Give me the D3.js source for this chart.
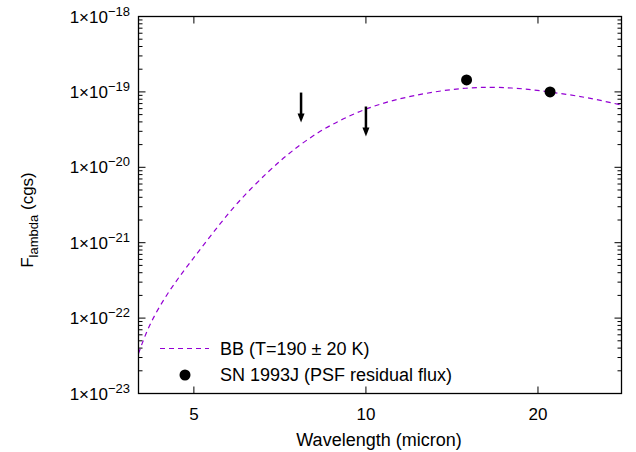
<!DOCTYPE html>
<html>
<head>
<meta charset="utf-8">
<script src="https://cdn.jsdelivr.net/npm/d3@7"></script>
<style>
  body { margin: 0; background: #fff; }
  text { font-family: "Liberation Sans", Arial, sans-serif; fill: #000; }
</style>
</head>
<body>
<script>
var w = 636;
var h = 452;

// blackbody curve
var bbWave = [4.0, 4.18, 4.53, 4.91, 5.39, 5.93, 6.78, 7.39, 8.31, 10.0, 12.1, 15.0, 18.1, 21.0, 24.3, 27.5, 28.0];
var bbFlux = [3.4e-23, 8.5e-23, 2.36e-22, 5.33e-22, 1.33e-21, 3.33e-21, 9.2e-21, 1.61e-20, 3.12e-20, 6.25e-20, 9.1e-20, 1.17e-19, 1.15e-19, 1.0e-19, 8.5e-20, 6.9e-20, 6.7e-20];

// SN 1993J detections
var snWave = [15.0, 21.0];
var snFlux = [1.44e-19, 1.0e-19];

// upper limits (arrows)
var ulWave = [7.7, 10.0];
var ulFlux = [9.8e-20, 6.4e-20];

var xTicks = [5, 10, 20];
var yTicks = [-23, -22, -21, -20, -19, -18];

var pLeft = 138.5, pRight = 621.5, pTop = 16.5, pBottom = 393.5;

var x = d3.scaleLog().domain([4, 28]).range([pLeft, pRight]);
var y = d3.scaleLog().domain([1e-23, 1e-18]).range([pBottom, pTop]);

var svg = d3.select("body")
            .append("svg")
              .attr("width", w)
              .attr("height", h);

svg.append("defs").append("clipPath").attr("id", "clip")
  .append("rect")
    .attr("x", pLeft).attr("y", pTop)
    .attr("width", pRight - pLeft).attr("height", pBottom - pTop);

// minor y ticks
var minor = [];
yTicks.slice(0, -1).forEach(function(e) {
  for (var k = 2; k <= 9; k++) minor.push(k * Math.pow(10, e));
});

var tickG = svg.append("g").attr("stroke", "#000").attr("stroke-width", 1);
minor.forEach(function(v) {
  tickG.append("line").attr("x1", pLeft).attr("x2", pLeft + 4).attr("y1", y(v)).attr("y2", y(v));
  tickG.append("line").attr("x1", pRight).attr("x2", pRight - 4).attr("y1", y(v)).attr("y2", y(v));
});
yTicks.forEach(function(e) {
  var v = Math.pow(10, e);
  tickG.append("line").attr("x1", pLeft).attr("x2", pLeft + 7).attr("y1", y(v)).attr("y2", y(v));
  tickG.append("line").attr("x1", pRight).attr("x2", pRight - 7).attr("y1", y(v)).attr("y2", y(v));
});
xTicks.forEach(function(v) {
  tickG.append("line").attr("x1", x(v)).attr("x2", x(v)).attr("y1", pBottom).attr("y2", pBottom - 7);
  tickG.append("line").attr("x1", x(v)).attr("x2", x(v)).attr("y1", pTop).attr("y2", pTop + 7);
});

// y tick labels
yTicks.forEach(function(e) {
  var t = svg.append("text")
    .attr("x", 130)
    .attr("y", y(Math.pow(10, e)) + 6)
    .attr("text-anchor", "end")
    .style("font-size", "17px");
  t.append("tspan").text("1\u00d710");
  t.append("tspan").attr("dy", -7).style("font-size", "13px").text("\u2212" + (-e));
});

// x tick labels
xTicks.forEach(function(v) {
  svg.append("text")
    .attr("x", x(v))
    .attr("y", 420)
    .attr("text-anchor", "middle")
    .style("font-size", "17px")
    .text(v);
});

// axis titles
svg.append("text")
  .attr("x", 379)
  .attr("y", 446)
  .attr("text-anchor", "middle")
  .style("font-size", "18px")
  .text("Wavelength (micron)");

var yl = svg.append("text")
  .attr("transform", "translate(33,220) rotate(-90)")
  .attr("text-anchor", "middle")
  .style("font-size", "17px");
yl.append("tspan").text("F");
yl.append("tspan").attr("dy", 5).style("font-size", "13px").text("lambda");
yl.append("tspan").attr("dy", -5).text(" (cgs)");

// blackbody curve
var bb = bbWave.map(function(d, i) { return [d, bbFlux[i]]; });
var line = d3.line()
  .x(function(d) { return x(d[0]); })
  .y(function(d) { return y(d[1]); })
  .curve(d3.curveBasis);

svg.append("path")
  .datum(bb)
  .attr("clip-path", "url(#clip)")
  .attr("d", line)
  .attr("fill", "none")
  .attr("stroke", "#9400d3")
  .attr("stroke-width", 1.2)
  .attr("stroke-dasharray", "5,4");

// detections
svg.selectAll(".sn")
  .data(snWave)
  .enter()
  .append("circle")
    .attr("class", "sn")
    .attr("cx", function(d) { return x(d); })
    .attr("cy", function(d, i) { return y(snFlux[i]); })
    .attr("r", 5.5)
    .attr("fill", "#000");

// upper limit arrows
var arrowLen = 30;
ulWave.forEach(function(d, i) {
  var ax = x(d), ay = y(ulFlux[i]);
  svg.append("line")
    .attr("x1", ax).attr("x2", ax)
    .attr("y1", ay).attr("y2", ay + arrowLen - 6)
    .attr("stroke", "#000").attr("stroke-width", 2.5);
  svg.append("path")
    .attr("d", "M" + (ax - 3.5) + "," + (ay + arrowLen - 9) +
               "L" + (ax + 3.5) + "," + (ay + arrowLen - 9) +
               "L" + ax + "," + (ay + arrowLen) + "Z")
    .attr("fill", "#000");
});

// legend
svg.append("line")
  .attr("x1", 160).attr("x2", 209)
  .attr("y1", 348.5).attr("y2", 348.5)
  .attr("stroke", "#9400d3")
  .attr("stroke-width", 1.2)
  .attr("stroke-dasharray", "5,4");
svg.append("text")
  .attr("x", 220).attr("y", 354.5)
  .style("font-size", "18px")
  .text("BB (T=190 \u00b1 20 K)");
svg.append("circle")
  .attr("cx", 185).attr("cy", 375)
  .attr("r", 5.5)
  .attr("fill", "#000");
svg.append("text")
  .attr("x", 220).attr("y", 381)
  .style("font-size", "18px")
  .text("SN 1993J (PSF residual flux)");

// frame
svg.append("rect")
  .attr("x", pLeft).attr("y", pTop)
  .attr("width", pRight - pLeft).attr("height", pBottom - pTop)
  .attr("fill", "none")
  .attr("stroke", "#000")
  .attr("stroke-width", 1.3);
</script>
</body>
</html>
